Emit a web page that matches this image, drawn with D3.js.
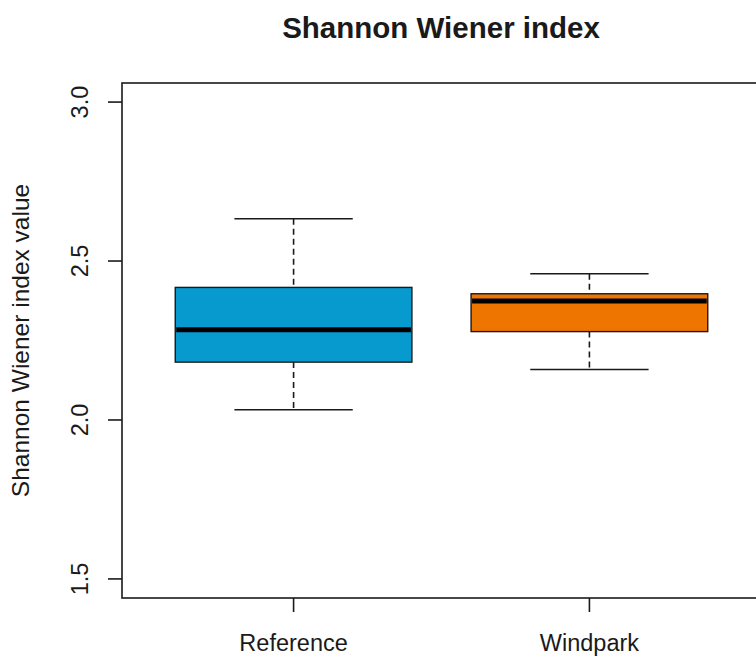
<!DOCTYPE html>
<html>
<head>
<meta charset="utf-8">
<script src="https://cdn.jsdelivr.net/npm/d3@7"></script>
<style>
  html, body { margin: 0; padding: 0; background: #fff; }
  svg { display: block; font-family: "Liberation Sans", Arial, sans-serif; }
</style>
</head>
<body>
<svg id="chart" width="756" height="656"></svg>
<script>
// ---- data ----
const categories = ["Reference", "Windpark"];
const whiskerLow  = [2.032, 2.159];
const q1          = [2.182, 2.278];
const medians     = [2.284, 2.374];
const q3          = [2.417, 2.397];
const whiskerHigh = [2.633, 2.460];
const boxColors   = ["#079ACF", "#EE7600"];
const yTicks      = [1.5, 2.0, 2.5, 3.0];
const chartTitle  = "Shannon Wiener index";
const yTitle      = "Shannon Wiener index value";

// ---- layout ----
const svg = d3.select("#chart");
const plot = { left: 122, right: 761, top: 83, bottom: 598 };
const ink = "#1a1a1a";

const x = d3.scaleLinear().domain([0.42, 2.58]).range([plot.left, plot.right]);
const y = d3.scaleLinear().domain([1.44, 3.06]).range([plot.bottom, plot.top]);

const boxHalf = 0.4, capHalf = 0.2;

const g = svg.append("g");

categories.forEach((c, i) => {
  const cx = x(i + 1);
  const grp = g.append("g");
  // whiskers (dashed)
  grp.append("line")
    .attr("x1", cx).attr("x2", cx)
    .attr("y1", y(whiskerHigh[i])).attr("y2", y(q3[i]))
    .attr("stroke", ink).attr("stroke-width", 1.6).attr("stroke-dasharray", "6,4");
  grp.append("line")
    .attr("x1", cx).attr("x2", cx)
    .attr("y1", y(q1[i])).attr("y2", y(whiskerLow[i]))
    .attr("stroke", ink).attr("stroke-width", 1.6).attr("stroke-dasharray", "6,4");
  // caps
  [whiskerHigh[i], whiskerLow[i]].forEach(v => {
    grp.append("line")
      .attr("x1", x(i + 1 - capHalf)).attr("x2", x(i + 1 + capHalf))
      .attr("y1", y(v)).attr("y2", y(v))
      .attr("stroke", ink).attr("stroke-width", 1.6);
  });
  // box
  grp.append("rect")
    .attr("x", x(i + 1 - boxHalf))
    .attr("y", y(q3[i]))
    .attr("width", x(i + 1 + boxHalf) - x(i + 1 - boxHalf))
    .attr("height", y(q1[i]) - y(q3[i]))
    .attr("fill", boxColors[i])
    .attr("stroke", ink).attr("stroke-width", 1.4);
  // median
  grp.append("line")
    .attr("x1", x(i + 1 - boxHalf) + 1).attr("x2", x(i + 1 + boxHalf) - 1)
    .attr("y1", y(medians[i])).attr("y2", y(medians[i]))
    .attr("stroke", "#000").attr("stroke-width", 5);
});

// ---- frame ----
svg.append("rect")
  .attr("x", plot.left).attr("y", plot.top)
  .attr("width", plot.right - plot.left).attr("height", plot.bottom - plot.top)
  .attr("fill", "none").attr("stroke", ink).attr("stroke-width", 1.6);

// ---- y axis ----
const yAxis = svg.append("g");
yTicks.forEach(t => {
  yAxis.append("line")
    .attr("x1", plot.left - 14).attr("x2", plot.left)
    .attr("y1", y(t)).attr("y2", y(t))
    .attr("stroke", ink).attr("stroke-width", 1.6);
  yAxis.append("text")
    .attr("transform", `translate(${88},${y(t)}) rotate(-90)`)
    .attr("text-anchor", "middle")
    .attr("font-size", 23.5)
    .attr("fill", ink)
    .text(d3.format(".1f")(t));
});

// ---- x axis ----
const xAxis = svg.append("g");
categories.forEach((c, i) => {
  xAxis.append("line")
    .attr("x1", x(i + 1)).attr("x2", x(i + 1))
    .attr("y1", plot.bottom).attr("y2", plot.bottom + 14)
    .attr("stroke", ink).attr("stroke-width", 1.6);
  xAxis.append("text")
    .attr("x", x(i + 1)).attr("y", 651)
    .attr("text-anchor", "middle")
    .attr("font-size", 23.5)
    .attr("fill", ink)
    .text(c);
});

// ---- titles ----
svg.append("text")
  .attr("x", 441).attr("y", 37.5)
  .attr("text-anchor", "middle")
  .attr("font-size", 29.5)
  .attr("font-weight", "bold")
  .attr("fill", ink)
  .text(chartTitle);

svg.append("text")
  .attr("transform", `translate(29,${(plot.top + plot.bottom) / 2}) rotate(-90)`)
  .attr("text-anchor", "middle")
  .attr("font-size", 24.5)
  .attr("fill", ink)
  .text(yTitle);
</script>
</body>
</html>
